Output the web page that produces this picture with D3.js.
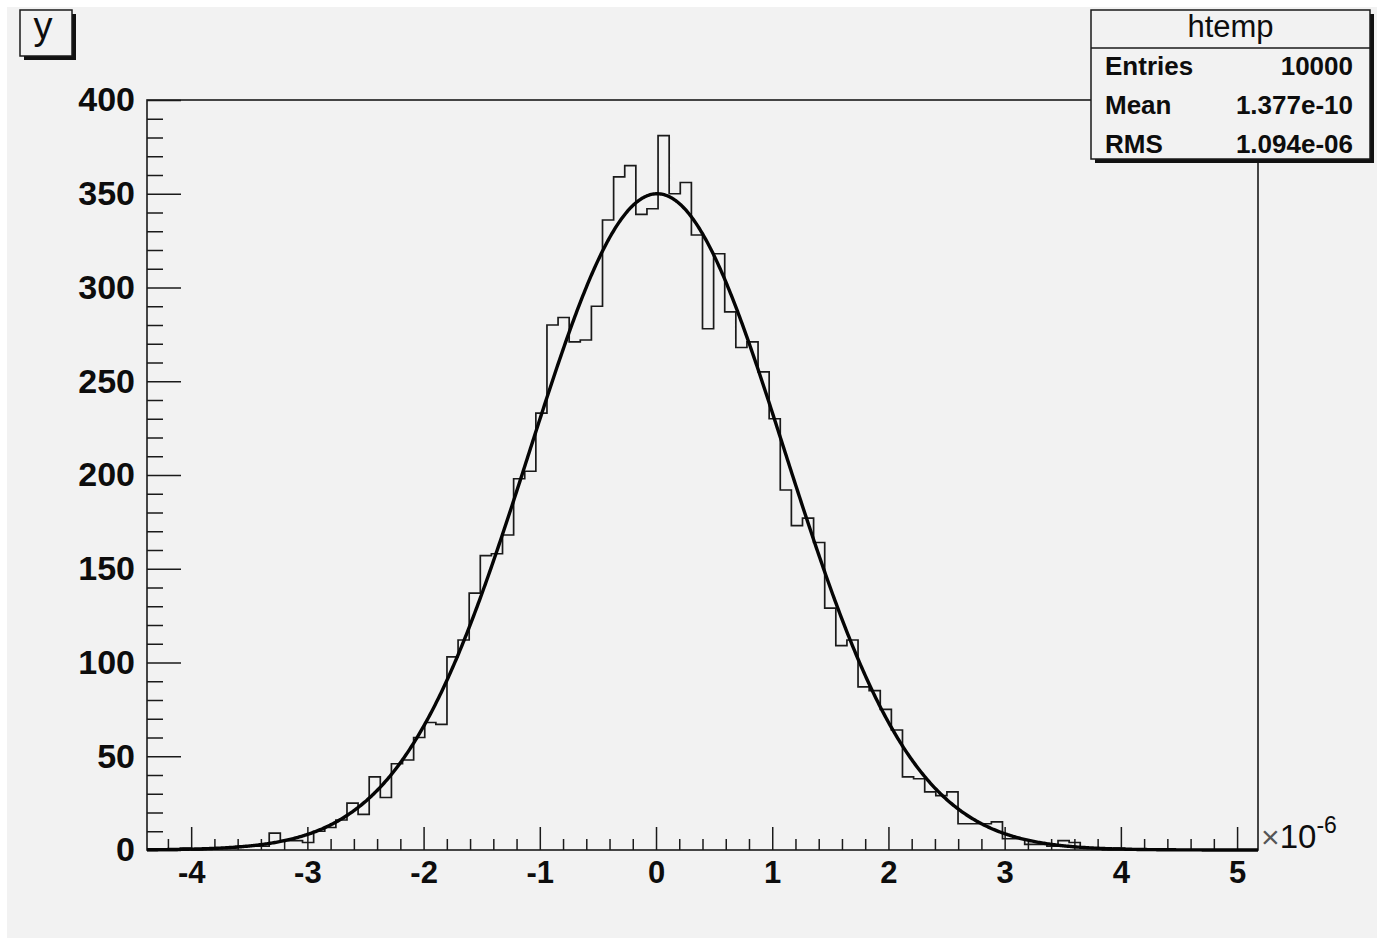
<!DOCTYPE html>
<html>
<head>
<meta charset="utf-8">
<script src="https://cdnjs.cloudflare.com/ajax/libs/d3/7.8.5/d3.min.js"></script>
<style>
    body { margin: 0; background: #ffffff; }
    text { font-family: 'Liberation Sans', Arial, Helvetica, sans-serif; }
</style>
</head>
<body>
<script>
'use strict';

// histogram htemp, 100 bins, x in units of 1e-6
var xMin = -4.38;
var xMax = 5.18;
var counts = [
    0, 0, 0, 1, 0, 1, 1, 1, 2, 2,
    2, 9, 5, 5, 4, 10, 12, 16, 25, 19,
    39, 28, 46, 48, 60, 68, 67, 103, 112, 137,
    157, 158, 168, 198, 202, 233, 280, 284, 271, 272,
    290, 336, 359, 365, 339, 342, 381, 350, 356, 328,
    278, 318, 287, 268, 271, 255, 230, 192, 173, 177,
    164, 129, 109, 112, 87, 85, 75, 64, 39, 38,
    31, 29, 31, 14, 14, 14, 15, 6, 6, 3,
    3, 2, 5, 4, 1, 1, 0, 1, 0, 0,
    0, 0, 0, 0, 0, 0, 0, 0, 0, 0
];

// gaussian fit
var fitConst = 350;
var fitMean = 0.01;
var fitSigma = 1.1;

var xTicks = [-4, -3, -2, -1, 0, 1, 2, 3, 4, 5];
var yTicks = [0, 50, 100, 150, 200, 250, 300, 350, 400];
var yMax = 400;

var statNames = ['Entries', 'Mean', 'RMS'];
var statValues = ['10000', '1.377e-10', '1.094e-06'];

var W = 1377, H = 938;
var frame = { left: 147, right: 1258, top: 100, bottom: 850 };
var ink = '#1a1a1a';

var svg = d3.select('body').append('svg')
    .attr('width', W)
    .attr('height', H);

svg.append('rect')
    .attr('x', 7)
    .attr('y', 7)
    .attr('width', W - 7)
    .attr('height', H - 7)
    .attr('fill', '#f2f2f2');

var x = d3.scaleLinear().domain([xMin, xMax]).range([frame.left, frame.right]);
var y = d3.scaleLinear().domain([0, yMax]).range([frame.bottom, frame.top]);

// minor tick positions
var binW = (xMax - xMin) / counts.length;
var xMinor = d3.range(-22, 26).map(function(k) { return k / 5; })
    .filter(function(v) { return v >= xMin && v <= xMax && Math.round(v) !== v; });
var yMinor = d3.range(0, yMax + 1, 10).filter(function(v) { return v % 50 !== 0; });

function styleAxis(g) {
    g.select('.domain').remove();
    g.selectAll('line').attr('stroke', ink).attr('stroke-width', 1.5);
}

svg.append('g')
    .attr('transform', 'translate(0,' + frame.bottom + ')')
    .call(d3.axisBottom(x).tickValues(xMinor).tickFormat('').tickSize(-11))
    .call(styleAxis);

svg.append('g')
    .attr('transform', 'translate(0,' + frame.bottom + ')')
    .call(d3.axisBottom(x).tickValues(xTicks).tickFormat(d3.format('d')).tickSize(-23).tickPadding(11))
    .call(styleAxis)
    .selectAll('text')
    .attr('fill', '#0d0d0d')
    .attr('font-size', 31)
    .attr('font-weight', 'bold')
    .attr('font-family', "'Liberation Sans', Arial, sans-serif")
    .text(function(d) { return d < 0 ? '-' + Math.abs(d) : d; });

svg.append('g')
    .attr('transform', 'translate(' + frame.left + ',0)')
    .call(d3.axisLeft(y).tickValues(yMinor).tickFormat('').tickSize(-16))
    .call(styleAxis);

svg.append('g')
    .attr('transform', 'translate(' + frame.left + ',0)')
    .call(d3.axisLeft(y).tickValues(yTicks).tickSize(-34).tickPadding(12))
    .call(styleAxis)
    .selectAll('text')
    .attr('fill', '#0d0d0d')
    .attr('font-size', 34)
    .attr('font-weight', 'bold')
    .attr('font-family', "'Liberation Sans', Arial, sans-serif");

// frame
svg.append('rect')
    .attr('x', frame.left)
    .attr('y', frame.top)
    .attr('width', frame.right - frame.left)
    .attr('height', frame.bottom - frame.top)
    .attr('fill', 'none')
    .attr('stroke', ink)
    .attr('stroke-width', 1.6);

// histogram outline as steps
var steps = [[xMin, 0]];
counts.forEach(function(c, i) {
    steps.push([xMin + i * binW, c]);
    steps.push([xMin + (i + 1) * binW, c]);
});
steps.push([xMax, 0]);

svg.append('path')
    .datum(steps)
    .attr('fill', 'none')
    .attr('stroke', ink)
    .attr('stroke-width', 1.7)
    .attr('d', d3.line()
        .x(function(d) { return x(d[0]); })
        .y(function(d) { return y(d[1]); }));

// fit function
function gaus(v) {
    var t = (v - fitMean) / fitSigma;
    return fitConst * Math.exp(-0.5 * t * t);
}

var fitPts = d3.range(xMin, xMax, 0.01).concat([xMax]);

svg.append('path')
    .datum(fitPts)
    .attr('fill', 'none')
    .attr('stroke', '#050505')
    .attr('stroke-width', 3.4)
    .attr('stroke-linejoin', 'round')
    .attr('d', d3.line()
        .x(function(d) { return x(d); })
        .y(function(d) { return y(gaus(d)); }));

// x10^-6 exponent label
var expo = svg.append('text')
    .attr('x', 1261)
    .attr('y', 848)
    .attr('fill', '#0d0d0d');
expo.append('tspan')
    .attr('font-size', 32)
    .attr('fill', '#555')
    .text('\u00d7');
expo.append('tspan')
    .attr('font-size', 33)
    .text('10');
expo.append('tspan')
    .attr('font-size', 23)
    .attr('dy', -15)
    .text('-6');

// y title box
svg.append('rect')
    .attr('x', 24).attr('y', 14)
    .attr('width', 52).attr('height', 46)
    .attr('fill', '#111');
svg.append('rect')
    .attr('x', 20).attr('y', 10)
    .attr('width', 52).attr('height', 46)
    .attr('fill', '#f2f2f2')
    .attr('stroke', ink)
    .attr('stroke-width', 1.5);
svg.append('text')
    .attr('x', 43)
    .attr('y', 39)
    .attr('text-anchor', 'middle')
    .attr('font-size', 38)
    .attr('fill', '#0d0d0d')
    .text('y');

// stats box
var box = { x: 1091, y: 10, w: 279, h: 149, head: 48 };
svg.append('rect')
    .attr('x', box.x + 4).attr('y', box.y + 4)
    .attr('width', box.w).attr('height', box.h)
    .attr('fill', '#111');
svg.append('rect')
    .attr('x', box.x).attr('y', box.y)
    .attr('width', box.w).attr('height', box.h)
    .attr('fill', '#f2f2f2')
    .attr('stroke', ink)
    .attr('stroke-width', 1.5);
svg.append('line')
    .attr('x1', box.x).attr('x2', box.x + box.w)
    .attr('y1', box.head).attr('y2', box.head)
    .attr('stroke', ink)
    .attr('stroke-width', 1.5);
svg.append('text')
    .attr('x', box.x + box.w / 2)
    .attr('y', 37)
    .attr('text-anchor', 'middle')
    .attr('font-size', 31)
    .attr('fill', '#0d0d0d')
    .text('htemp');

var rowY = [75, 114, 153];
statNames.forEach(function(name, i) {
    svg.append('text')
        .attr('x', 1105)
        .attr('y', rowY[i])
        .attr('font-size', 26)
        .attr('font-weight', 'bold')
        .attr('fill', '#0d0d0d')
        .text(name);
    svg.append('text')
        .attr('x', 1353)
        .attr('y', rowY[i])
        .attr('text-anchor', 'end')
        .attr('font-size', 26)
        .attr('font-weight', 'bold')
        .attr('fill', '#0d0d0d')
        .text(statValues[i]);
});
</script>
</body>
</html>
